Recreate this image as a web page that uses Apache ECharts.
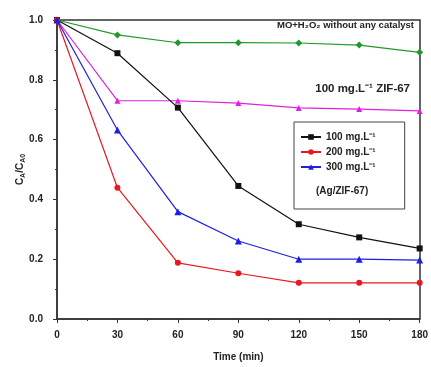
<!DOCTYPE html>
<html>
<head>
<meta charset="utf-8">
<script src="https://cdn.jsdelivr.net/npm/echarts@6/dist/echarts.min.js"></script>
<style>
  html, body { margin: 0; padding: 0; background: #fff; }
  #chart { width: 431px; height: 367px; }
</style>
</head>
<body>
<div id="chart"></div>
<script>
// time (min)
var times = [0, 30, 60, 90, 120, 150, 180];

// C_A / C_A0 readings
var noCatalyst = [1.0, 0.95, 0.924, 0.924, 0.923, 0.916, 0.892];
var zif67 = [1.0, 0.73, 0.73, 0.722, 0.706, 0.702, 0.696];
var ag100 = [1.0, 0.889, 0.707, 0.445, 0.317, 0.273, 0.236];
var ag200 = [1.0, 0.439, 0.188, 0.153, 0.121, 0.121, 0.121];
var ag300 = [1.0, 0.632, 0.359, 0.261, 0.2, 0.2, 0.197];

var legendNames = ['100 mg.L\u207B\u00B9', '200 mg.L\u207B\u00B9', '300 mg.L\u207B\u00B9'];

function pairs(ys) {
    return times.map(function (t, i) { return [t, ys[i]]; });
}

function line(name, ys, color, symbol, size) {
    return {
        name: name,
        type: 'line',
        data: pairs(ys),
        symbol: symbol,
        symbolSize: size,
        showSymbol: true,
        lineStyle: { color: color, width: 1.2 },
        itemStyle: { color: color },
        animation: false
    };
}

var font = 'Liberation Sans, Arial, sans-serif';
var txt = { fontFamily: font, fontWeight: 'bold', color: '#222' };

var chart = echarts.init(document.getElementById('chart'));
chart.setOption({
    backgroundColor: '#fff',
    grid: { left: 57, right: 11, top: 20, bottom: 48 },
    xAxis: {
        type: 'value',
        min: 0, max: 180, interval: 30,
        name: 'Time (min)',
        nameLocation: 'middle',
        nameGap: 33,
        nameMoveOverlap: false,
        nameTextStyle: Object.assign({ fontSize: 10 }, txt),
        axisLine: { show: true, lineStyle: { color: '#333', width: 1.5 } },
        axisTick: { show: true, length: 4, lineStyle: { color: '#333' } },
        minorTick: { show: true, splitNumber: 2, length: 2, lineStyle: { color: '#333' } },
        axisLabel: Object.assign({ fontSize: 10, margin: 11 }, txt),
        splitLine: { show: false }
    },
    yAxis: {
        type: 'value',
        min: 0, max: 1.0, interval: 0.2,
        name: '{b|C}{s|A}{b|/C}{s|A0}',
        nameLocation: 'middle',
        nameGap: 30,
        nameMoveOverlap: false,
        nameRotate: 90,
        nameTextStyle: {
            rich: {
                b: Object.assign({ fontSize: 10 }, txt),
                s: Object.assign({ fontSize: 7, padding: [6, 0, 0, 0] }, txt)
            }
        },
        axisLine: { show: true, lineStyle: { color: '#333', width: 1.5 } },
        axisTick: { show: true, length: 4, lineStyle: { color: '#333' } },
        minorTick: { show: true, splitNumber: 2, length: 2, lineStyle: { color: '#333' } },
        axisLabel: Object.assign({
            fontSize: 10, margin: 14,
            formatter: function (v) { return v.toFixed(1); }
        }, txt),
        splitLine: { show: false }
    },
    legend: {
        data: legendNames,
        orient: 'vertical',
        left: 294, top: 122,
        padding: [10, 29, 37, 6],
        itemGap: 5,
        itemWidth: 20, itemHeight: 7,
        borderColor: '#444', borderWidth: 1,
        textStyle: Object.assign({ fontSize: 10 }, txt)
    },
    graphic: [
        {
            type: 'rect',
            shape: { x: 57, y: 20, width: 363, height: 299 },
            style: { fill: 'none', stroke: '#333', lineWidth: 1.5 },
            silent: true
        },
        {
            type: 'text', left: 316, top: 186,
            style: { text: '(Ag/ZIF-67)', font: 'bold 10px ' + font, fill: '#222' }
        },
        {
            type: 'text', right: 17, top: 20,
            style: { text: 'MO+H\u2082O\u2082 without any catalyst', font: 'bold 9.5px ' + font, fill: '#222' }
        },
        {
            type: 'text', right: 21, top: 83,
            style: { text: '100 mg.L\u207B\u00B9 ZIF-67', font: 'bold 11.5px ' + font, fill: '#222' }
        }
    ],
    series: [
        line('MO+H2O2', noCatalyst, '#1f9a2a', 'diamond', 7),
        line('ZIF-67', zif67, '#e020e0', 'triangle', 6),
        line(legendNames[0], ag100, '#111111', 'rect', 6),
        line(legendNames[1], ag200, '#e8191f', 'circle', 6),
        line(legendNames[2], ag300, '#1f1fe0', 'triangle', 7)
    ]
});
</script>
</body>
</html>
